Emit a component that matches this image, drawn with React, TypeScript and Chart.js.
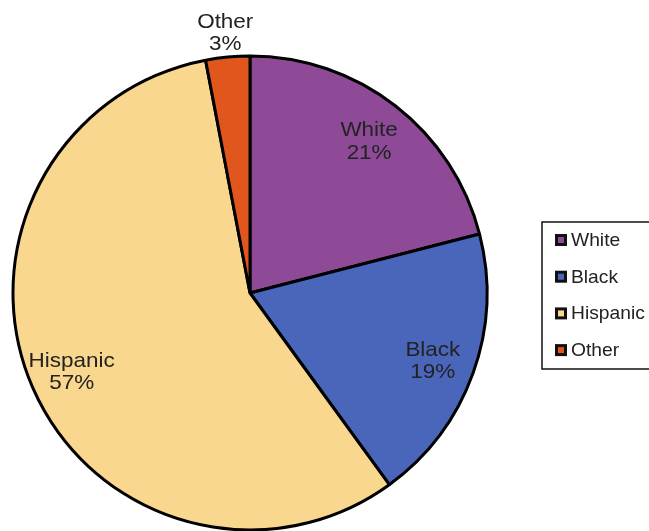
import React, { useEffect, useRef } from "react";
import { Chart, registerables } from "chart.js";

Chart.register(...registerables);

const categories = ["White", "Black", "Hispanic", "Other"];
const shares = [21, 19, 57, 3];
const sliceColors = ["#8E4A96", "#4A66BA", "#FAD78E", "#E0561C"];

const FONT = '"Liberation Sans", Arial, Helvetica, sans-serif';

function wideText(ctx: any, text: string, x: number, y: number, sx: number) {
  ctx.save();
  ctx.translate(x, y);
  ctx.scale(sx, 1);
  ctx.fillText(text, 0, 0);
  ctx.restore();
}

const sliceLabelPlugin = {
  id: "sliceLabels",
  afterDatasetsDraw(chart: any) {
    const ctx = chart.ctx;
    const meta = chart.getDatasetMeta(0);
    const data = chart.data.datasets[0].data as number[];
    const total = data.reduce((a, b) => a + b, 0);
    ctx.save();
    ctx.font = `21px ${FONT}`;
    ctx.fillStyle = "#222";
    ctx.textAlign = "center";
    ctx.textBaseline = "middle";
    meta.data.forEach((arc: any, i: number) => {
      const { x, y, startAngle, endAngle, outerRadius } = arc.getProps(
        ["x", "y", "startAngle", "endAngle", "outerRadius"],
        true
      );
      const mid = (startAngle + endAngle) / 2;
      const frac = data[i] / total;
      const r = frac < 0.05 ? outerRadius + 26 : outerRadius * 0.82;
      const cx = x + Math.cos(mid) * r;
      const cy = y + Math.sin(mid) * r + 2;
      wideText(ctx, String(chart.data.labels[i]), cx, cy - 11, 1.07);
      wideText(ctx, Math.round(frac * 100) + "%", cx, cy + 11.5, 1.07);
    });
    ctx.restore();
  },
};

const legendPlugin = {
  id: "boxLegend",
  afterDraw(chart: any) {
    const ctx = chart.ctx;
    const labels = chart.data.labels as string[];
    const colors = chart.data.datasets[0].backgroundColor as string[];
    const bx = 542;
    const by = 222;
    const bw = 130;
    const bh = 147;
    ctx.save();
    ctx.fillStyle = "#fff";
    ctx.fillRect(bx, by, bw, bh);
    ctx.strokeStyle = "#111";
    ctx.lineWidth = 1.5;
    ctx.strokeRect(bx, by, bw, bh);
    ctx.font = `18.5px ${FONT}`;
    ctx.textBaseline = "middle";
    ctx.textAlign = "left";
    labels.forEach((lab, i) => {
      const cy = by + 18 + i * 36.7;
      ctx.fillStyle = "#111";
      ctx.fillRect(555, cy - 6, 12, 12);
      ctx.fillStyle = colors[i];
      ctx.fillRect(558, cy - 3, 6, 6);
      ctx.fillStyle = "#222";
      ctx.save();
      ctx.translate(571, cy + 1);
      ctx.scale(1.04, 1);
      ctx.fillText(lab, 0, 0);
      ctx.restore();
    });
    ctx.restore();
  },
};

export default function App() {
  const ref = useRef<HTMLCanvasElement | null>(null);
  useEffect(() => {
    if (!ref.current) return;
    const chart = new Chart(ref.current, {
      type: "pie",
      data: {
        labels: categories,
        datasets: [
          {
            data: shares,
            backgroundColor: sliceColors,
            borderColor: "#000",
            borderWidth: 3,
            borderAlign: "center",
          },
        ],
      },
      options: {
        responsive: false,
        animation: false,
        radius: 237,
        layout: { padding: { left: 10, right: 159, top: 55, bottom: 0 } },
        plugins: {
          legend: { display: false },
          tooltip: { enabled: false },
        },
      } as any,
      plugins: [sliceLabelPlugin, legendPlugin],
    });
    return () => chart.destroy();
  }, []);
  return (
    <div style={{ position: "absolute", left: 0, top: 0, width: 649, height: 531, background: "#fff" }}>
      <canvas ref={ref} width={649} height={531} />
    </div>
  );
}
